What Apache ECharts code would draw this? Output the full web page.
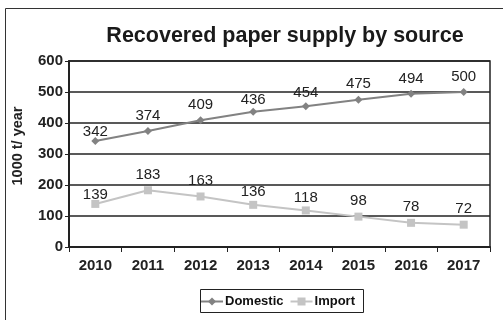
<!DOCTYPE html>
<html>
<head>
<meta charset="utf-8">
<script src="https://cdn.jsdelivr.net/npm/echarts@6/dist/echarts.min.js"></script>
<style>
  html, body { margin: 0; padding: 0; background: #fff; }
  #chart { width: 503px; height: 320px; }
</style>
</head>
<body>
<div id="chart"></div>
<script>
const years = ['2010', '2011', '2012', '2013', '2014', '2015', '2016', '2017'];
const domestic = [342, 374, 409, 436, 454, 475, 494, 500];
const imported = [139, 183, 163, 136, 118, 98, 78, 72];
const yTicks = [0, 100, 200, 300, 400, 500, 600];
const yAxisTitle = '1000 t/ year';

// A few value labels sit lower so they stay clear of the gridlines (pixels down).
const labelDrop = {
  Domestic: { '2010': 6, '2013': 4, '2014': 2 },
  Import: { '2010': 6, '2013': 3, '2014': 3 }
};

function withLabels(name, values) {
  return values.map((v, i) => {
    const drop = labelDrop[name][years[i]] || 0;
    return drop ? { value: v, label: { offset: [0, drop] } } : v;
  });
}

const chart = echarts.init(document.getElementById('chart'));
const font = 'Liberation Sans, Arial, sans-serif';
const valueLabel = { show: true, position: 'top', distance: 4, fontFamily: font, fontSize: 15, color: '#222' };

chart.setOption({
  animation: false,
  textStyle: { fontFamily: font },
  title: {
    text: 'Recovered paper supply by source',
    left: 280, top: 20, textAlign: 'center',
    textStyle: { fontFamily: font, fontSize: 21.5, fontWeight: 'bold', color: '#1a1a1a' }
  },
  graphic: [
    { type: 'rect', left: 3, top: 6, shape: { width: 520, height: 330 },
      style: { fill: 'none', stroke: '#333', lineWidth: 1 }, silent: true },
    { type: 'rect', left: 198, top: 287, shape: { width: 163, height: 23 },
      style: { fill: 'none', stroke: '#222', lineWidth: 1 }, silent: true },
    { type: 'text', x: 18, y: 146, rotation: Math.PI / 2, silent: true,
      style: { text: yAxisTitle, fontFamily: font, fontSize: 14.5, fontWeight: 'bold',
               fill: '#222', align: 'center', verticalAlign: 'middle' } }
  ],
  legend: {
    left: 195, top: 290, itemGap: 6, itemWidth: 22, itemHeight: 10,
    textStyle: { fontFamily: font, fontSize: 13, fontWeight: 'bold', color: '#111', padding: [0, 0, 0, -3] },
    data: ['Domestic', 'Import']
  },
  grid: { left: 69, right: 13, top: 61, bottom: 73, show: true, borderColor: '#222', borderWidth: 1.5 },
  xAxis: {
    type: 'category', data: years, boundaryGap: true,
    axisLine: { lineStyle: { color: '#222', width: 2 } },
    axisTick: { show: true, inside: false, length: 5, lineStyle: { color: '#222' } },
    axisLabel: { fontFamily: font, fontSize: 15, fontWeight: 'bold', color: '#222', margin: 11 }
  },
  yAxis: {
    type: 'value', min: yTicks[0], max: yTicks[yTicks.length - 1], interval: 100,
    axisLine: { show: true, lineStyle: { color: '#222', width: 2 } },
    axisTick: { show: true, length: 4, lineStyle: { color: '#222' } },
    axisLabel: { fontFamily: font, fontSize: 15, fontWeight: 'bold', color: '#222', margin: 6 },
    splitLine: { lineStyle: { color: '#222', width: 1.5 } }
  },
  series: [
    {
      name: 'Domestic', type: 'line', data: withLabels('Domestic', domestic),
      symbol: 'diamond', symbolSize: 8,
      lineStyle: { color: '#828282', width: 2 },
      itemStyle: { color: '#828282' },
      label: valueLabel
    },
    {
      name: 'Import', type: 'line', data: withLabels('Import', imported),
      symbol: 'rect', symbolSize: 8,
      lineStyle: { color: '#c4c4c4', width: 2 },
      itemStyle: { color: '#c4c4c4' },
      label: valueLabel
    }
  ]
});
</script>
</body>
</html>
